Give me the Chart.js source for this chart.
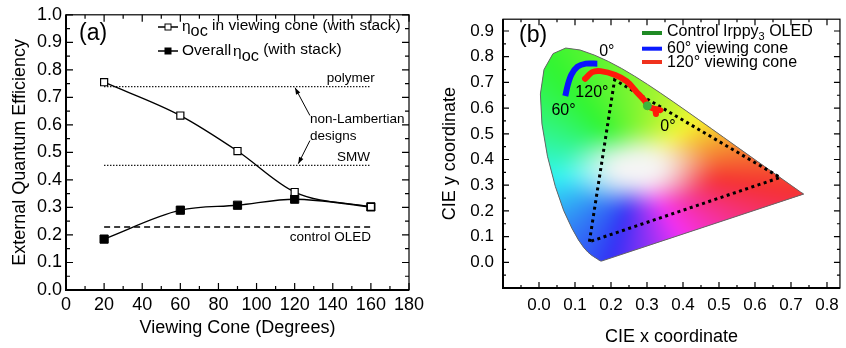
<!DOCTYPE html>
<html>
<head>
<meta charset="utf-8">
<script src="https://cdn.jsdelivr.net/npm/chart.js@4.4.1/dist/chart.umd.min.js"></script>
<style>
html, body { margin: 0; padding: 0; background: #fff; }
#wrap { position: relative; width: 846px; height: 348px; overflow: hidden; }
#chartA { position: absolute; left: 0; top: 0; }
#chartB { position: absolute; left: 420px; top: 0; }
</style>
</head>
<body>
<div id="wrap">
  <canvas id="chartA" width="430" height="348"></canvas>
  <canvas id="chartB" width="426" height="348"></canvas>
</div>
<script>
// ---- panel (a) data
const viewCone = [20, 60, 90, 120, 160];
const etaInCone = [0.755, 0.634, 0.505, 0.356, 0.302];
const etaOverall = [0.185, 0.29, 0.308, 0.33, 0.302];
const refSpan = [20, 160];
const polymerEta = 0.739;
const smwEta = 0.453;
const controlEta = 0.229;
const coneTicks = [0, 20, 40, 60, 80, 100, 120, 140, 160, 180];
const eqeTicks = [0, 0.1, 0.2, 0.3, 0.4, 0.5, 0.6, 0.7, 0.8, 0.9, 1.0];

// ---- panel (b) data (CIE 1931)
const locusX = [0.1741, 0.1740, 0.1738, 0.1736, 0.1733, 0.1730, 0.1726, 0.1721, 0.1714, 0.1703, 0.1689, 0.1669, 0.1644, 0.1611, 0.1566, 0.1510, 0.1440, 0.1355, 0.1241, 0.1096, 0.0913, 0.0687, 0.0454, 0.0235, 0.0082, 0.0039, 0.0139, 0.0389, 0.0743, 0.1142, 0.1547, 0.1929, 0.2296, 0.2658, 0.3016, 0.3373, 0.3731, 0.4087, 0.4441, 0.4788, 0.5125, 0.5448, 0.5752, 0.6029, 0.6270, 0.6482, 0.6658, 0.6801, 0.6915, 0.7006, 0.7079, 0.7140, 0.7190, 0.7230, 0.7260, 0.7283, 0.7300, 0.7311, 0.7320, 0.7334, 0.7344, 0.7347, 0.1741];
const locusY = [0.0050, 0.0050, 0.0049, 0.0049, 0.0048, 0.0048, 0.0048, 0.0048, 0.0051, 0.0058, 0.0069, 0.0086, 0.0109, 0.0138, 0.0177, 0.0227, 0.0297, 0.0399, 0.0578, 0.0868, 0.1327, 0.2007, 0.2950, 0.4127, 0.5384, 0.6548, 0.7502, 0.8120, 0.8338, 0.8262, 0.8059, 0.7816, 0.7543, 0.7243, 0.6923, 0.6589, 0.6245, 0.5896, 0.5547, 0.5202, 0.4866, 0.4544, 0.4242, 0.3965, 0.3725, 0.3514, 0.3340, 0.3197, 0.3083, 0.2993, 0.2920, 0.2859, 0.2809, 0.2770, 0.2740, 0.2717, 0.2700, 0.2689, 0.2680, 0.2666, 0.2656, 0.2653, 0.0050];
const triangleX = [0.14, 0.21, 0.67, 0.14];
const triangleY = [0.08, 0.71, 0.33, 0.08];
const cone60X = [0.073, 0.080, 0.090, 0.107, 0.130, 0.162];
const cone60Y = [0.647, 0.690, 0.730, 0.761, 0.773, 0.773];
const cone120X = [0.128, 0.148, 0.171, 0.212, 0.244, 0.271, 0.294, 0.303, 0.322, 0.337, 0.324, 0.325];
const cone120Y = [0.714, 0.740, 0.744, 0.729, 0.704, 0.663, 0.628, 0.607, 0.597, 0.592, 0.594, 0.577];
const controlX = [0.301];
const controlY = [0.609];
const cieXTicks = [0, 0.1, 0.2, 0.3, 0.4, 0.5, 0.6, 0.7, 0.8];
const cieYTicks = [0, 0.1, 0.2, 0.3, 0.4, 0.5, 0.6, 0.7, 0.8, 0.9];

const FONT = '"Liberation Sans", Arial, Helvetica, sans-serif';
Chart.defaults.font.family = FONT;
Chart.defaults.color = '#000';

const pts = (xs, ys) => xs.map((v, i) => ({ x: v, y: ys[i] }));

// frame with inward ticks on all four sides
function framePlugin(xStart, xStep, yStart, yStep, majorLen, minorLen) {
  return {
    id: 'frame',
    afterDatasetsDraw(chart) {
      const { ctx, chartArea: a, scales: { x, y } } = chart;
      ctx.save();
      ctx.strokeStyle = '#000';
      ctx.lineWidth = 1.2;
      ctx.strokeRect(a.left, a.top, a.right - a.left, a.bottom - a.top);
      ctx.lineWidth = 2;
      ctx.beginPath();
      ctx.moveTo(a.left, a.top); ctx.lineTo(a.left, a.bottom); ctx.lineTo(a.right, a.bottom);
      ctx.stroke();
      ctx.lineWidth = 1.2;
      ctx.beginPath();
      for (let k = 0; k < 200; k++) {
        const v = xStart + k * xStep;
        if (v > x.max + 1e-9) break;
        const p = x.getPixelForValue(v);
        const len = k % 2 === 0 ? majorLen : minorLen;
        ctx.moveTo(p, a.bottom); ctx.lineTo(p, a.bottom - len);
        ctx.moveTo(p, a.top); ctx.lineTo(p, a.top + len);
      }
      for (let k = 0; k < 200; k++) {
        const v = yStart + k * yStep;
        if (v > y.max + 1e-9) break;
        const p = y.getPixelForValue(v);
        const len = k % 2 === 0 ? majorLen : minorLen;
        ctx.moveTo(a.left, p); ctx.lineTo(a.left + len, p);
        ctx.moveTo(a.right, p); ctx.lineTo(a.right - len, p);
      }
      ctx.stroke();
      ctx.restore();
    }
  };
}

function arrow(ctx, x1, y1, x2, y2) {
  const ang = Math.atan2(y2 - y1, x2 - x1);
  ctx.beginPath();
  ctx.moveTo(x1, y1); ctx.lineTo(x2, y2);
  ctx.stroke();
  ctx.beginPath();
  ctx.moveTo(x2, y2);
  ctx.lineTo(x2 - 7 * Math.cos(ang - 0.35), y2 - 7 * Math.sin(ang - 0.35));
  ctx.lineTo(x2 - 7 * Math.cos(ang + 0.35), y2 - 7 * Math.sin(ang + 0.35));
  ctx.closePath();
  ctx.fill();
}

// eta with "oc" subscript, returns new x
function etaOc(ctx, x, y, size) {
  ctx.font = size + 'px ' + FONT;
  ctx.fillText('\u03b7', x, y);
  x += ctx.measureText('\u03b7').width;
  ctx.font = (size * 1.05) + 'px ' + FONT;
  ctx.fillText('oc', x, y + 5);
  x += ctx.measureText('oc').width;
  ctx.font = size + 'px ' + FONT;
  return x;
}

const annotA = {
  id: 'annotA',
  afterDraw(chart) {
    const { ctx, scales: { x, y } } = chart;
    ctx.save();
    ctx.fillStyle = '#000';
    ctx.strokeStyle = '#000';
    ctx.textBaseline = 'middle';
    ctx.font = '23px ' + FONT;
    ctx.fillText('(a)', 79, 34);

    // legend
    ctx.lineWidth = 1.3;
    ctx.beginPath();
    ctx.moveTo(158, 27); ctx.lineTo(178, 27);
    ctx.moveTo(158, 51); ctx.lineTo(178, 51);
    ctx.stroke();
    ctx.fillStyle = '#fff';
    ctx.fillRect(165, 24, 6, 6);
    ctx.lineWidth = 1;
    ctx.strokeRect(165, 24, 6, 6);
    ctx.fillStyle = '#000';
    ctx.fillRect(164.5, 47.5, 7, 7);
    let tx = etaOc(ctx, 182, 27, 15.5);
    ctx.fillText(' in viewing cone (with stack)', tx, 26);
    ctx.font = '15.5px ' + FONT;
    ctx.fillText('Overall', 182, 51);
    tx = etaOc(ctx, 182 + ctx.measureText('Overall').width + 2, 52, 15.5);
    ctx.fillText(' (with stack)', tx, 50);

    // line labels
    ctx.font = '13.5px ' + FONT;
    ctx.textAlign = 'right';
    ctx.fillText('polymer', x.getPixelForValue(162), y.getPixelForValue(0.768));
    ctx.fillText('SMW', x.getPixelForValue(159.5), y.getPixelForValue(0.482));
    ctx.fillText('control OLED', x.getPixelForValue(160), y.getPixelForValue(0.192));
    ctx.textAlign = 'left';
    ctx.fillText('non-Lambertian', x.getPixelForValue(128), y.getPixelForValue(0.62));
    ctx.fillText('designs', x.getPixelForValue(128), y.getPixelForValue(0.558));
    ctx.lineWidth = 1;
    arrow(ctx, x.getPixelForValue(128), y.getPixelForValue(0.634), x.getPixelForValue(120.2), y.getPixelForValue(0.735));
    arrow(ctx, x.getPixelForValue(128), y.getPixelForValue(0.543), x.getPixelForValue(121.9), y.getPixelForValue(0.459));
    ctx.restore();
  }
};

const chartA = new Chart(document.getElementById('chartA'), {
  type: 'line',
  data: {
    datasets: [
      {
        data: pts(viewCone, etaInCone), borderColor: '#000', borderWidth: 1.4,
        pointStyle: 'rect', pointRadius: 5, pointBackgroundColor: '#fff',
        pointBorderColor: '#000', pointBorderWidth: 1.2, cubicInterpolationMode: 'monotone'
      },
      {
        data: pts(viewCone, etaOverall), borderColor: '#000', borderWidth: 1.4,
        pointStyle: 'rect', pointRadius: 5.8, pointBackgroundColor: '#000',
        pointBorderColor: '#000', pointBorderWidth: 1, cubicInterpolationMode: 'monotone'
      },
      { data: pts(refSpan, [polymerEta, polymerEta]), borderColor: '#000', borderWidth: 1.3, borderDash: [1.3, 1.7], pointRadius: 0 },
      { data: pts(refSpan, [smwEta, smwEta]), borderColor: '#000', borderWidth: 1.3, borderDash: [1.3, 1.7], pointRadius: 0 },
      { data: pts(refSpan, [controlEta, controlEta]), borderColor: '#000', borderWidth: 1.3, borderDash: [6, 4], pointRadius: 0 }
    ]
  },
  options: {
    responsive: false,
    animation: false,
    layout: { padding: { top: 14, right: 21, left: 0, bottom: 0 } },
    plugins: { legend: { display: false }, tooltip: { enabled: false } },
    scales: {
      x: {
        type: 'linear', min: 0, max: 180,
        afterBuildTicks: s => { s.ticks = coneTicks.map(v => ({ value: v })); },
        afterFit: s => { s.height = 58; },
        grid: { display: false, drawTicks: false },
        border: { display: false },
        ticks: { padding: 4, font: { size: 18 }, color: '#000', maxRotation: 0, autoSkip: false },
        title: { display: true, text: 'Viewing Cone (Degrees)', font: { size: 18 }, color: '#000', padding: { top: 0, bottom: 9 } }
      },
      y: {
        type: 'linear', min: 0, max: 1,
        afterBuildTicks: s => { s.ticks = eqeTicks.map(v => ({ value: v })); },
        afterFit: s => { s.width = 66; },
        grid: { display: false, drawTicks: false },
        border: { display: false },
        ticks: { padding: 4, font: { size: 18 }, color: '#000', autoSkip: false, callback: v => v.toFixed(1) },
        title: { display: true, text: 'External Quantum Efficiency', font: { size: 18 }, color: '#000', padding: { top: 9, bottom: 0 } }
      }
    }
  },
  plugins: [framePlugin(0, 10, 0, 0.05, 7, 4), annotA]
});

// ---- panel (b)
// hue chosen by direction from the white spot, saturation by distance
const hueAngles = [-166, -108, -62, -11, 45, 115, 194];
const hueValues = [185, 232, 305, 360, 415, 475, 545];
function cieColor(cx, cy) {
  const dx = cx - 0.275, dy = cy - 0.365;
  let a = Math.atan2(dy, dx) * 180 / Math.PI;
  if (a < -166) a += 360;
  let h = hueValues[0];
  for (let i = 0; i < hueAngles.length - 1; i++) {
    if (a >= hueAngles[i] && a <= hueAngles[i + 1]) {
      const t = (a - hueAngles[i]) / (hueAngles[i + 1] - hueAngles[i]);
      h = hueValues[i] + t * (hueValues[i + 1] - hueValues[i]);
    }
  }
  h = ((h % 360) + 360) % 360;
  const d = Math.hypot(dx * 0.85, dy * 1.15);
  let t = Math.min(1, Math.max(0, (d - 0.035) / 0.17));
  t = t * t * (3 - 2 * t);
  const s = 0.8 * t, v = 0.96;
  const c = v * s, hp = h / 60, xx = c * (1 - Math.abs(hp % 2 - 1));
  let rgb;
  if (hp < 1) rgb = [c, xx, 0];
  else if (hp < 2) rgb = [xx, c, 0];
  else if (hp < 3) rgb = [0, c, xx];
  else if (hp < 4) rgb = [0, xx, c];
  else if (hp < 5) rgb = [xx, 0, c];
  else rgb = [c, 0, xx];
  const m = v - c;
  return rgb.map(q => Math.round(255 * (q + m)));
}

const cieFill = {
  id: 'cieFill',
  beforeDatasetsDraw(chart) {
    const { ctx, chartArea: a, scales: { x, y } } = chart;
    const w = Math.round(a.right - a.left), h = Math.round(a.bottom - a.top);
    const off = document.createElement('canvas');
    off.width = w; off.height = h;
    const octx = off.getContext('2d');
    const img = octx.createImageData(w, h);
    for (let j = 0; j < h; j++) {
      const cy = y.getValueForPixel(a.top + j + 0.5);
      for (let i = 0; i < w; i++) {
        const cx = x.getValueForPixel(a.left + i + 0.5);
        const c = cieColor(cx, cy);
        const k = (j * w + i) * 4;
        img.data[k] = c[0]; img.data[k + 1] = c[1]; img.data[k + 2] = c[2]; img.data[k + 3] = 255;
      }
    }
    octx.putImageData(img, 0, 0);
    const soft = document.createElement('canvas');
    soft.width = w; soft.height = h;
    const sctx = soft.getContext('2d');
    sctx.filter = 'blur(7px)';
    sctx.drawImage(off, 0, 0);
    ctx.save();
    ctx.beginPath();
    locusX.forEach((v, i) => {
      const px = x.getPixelForValue(v), py = y.getPixelForValue(locusY[i]);
      if (i) ctx.lineTo(px, py); else ctx.moveTo(px, py);
    });
    ctx.closePath();
    ctx.clip();
    ctx.drawImage(off, a.left, a.top);
    ctx.drawImage(soft, a.left, a.top);
    ctx.restore();
  }
};

const annotB = {
  id: 'annotB',
  afterDraw(chart) {
    const { ctx, scales: { x, y } } = chart;
    ctx.save();
    ctx.fillStyle = '#000';
    ctx.textBaseline = 'middle';
    ctx.font = '23px ' + FONT;
    ctx.fillText('(b)', 99, 36);

    ctx.font = '16px ' + FONT;
    ctx.textAlign = 'center';
    ctx.fillText('0°', x.getPixelForValue(0.1885), y.getPixelForValue(0.818));
    ctx.fillText('120°', x.getPixelForValue(0.147), y.getPixelForValue(0.660));
    ctx.fillText('60°', x.getPixelForValue(0.068), y.getPixelForValue(0.590));
    ctx.fillText('0°', x.getPixelForValue(0.358), y.getPixelForValue(0.527));

    // legend
    ctx.textAlign = 'left';
    ctx.lineWidth = 4;
    const rows = [[33, '#1f8a24'], [48.7, '#0a1aff'], [62, '#f0321e']];
    rows.forEach(r => {
      ctx.strokeStyle = r[1];
      ctx.beginPath(); ctx.moveTo(222, r[0]); ctx.lineTo(242, r[0]); ctx.stroke();
    });
    ctx.fillStyle = '#000';
    ctx.fillText('Control Irppy', 247, 32);
    let tx = 247 + ctx.measureText('Control Irppy').width;
    ctx.font = '11px ' + FONT;
    ctx.fillText('3', tx, 37);
    tx += ctx.measureText('3').width;
    ctx.font = '16px ' + FONT;
    ctx.fillText(' OLED', tx, 32);
    ctx.fillText('60° viewing cone', 247, 49);
    ctx.fillText('120° viewing cone', 247, 62.7);
    ctx.restore();
  }
};

const chartB = new Chart(document.getElementById('chartB'), {
  type: 'line',
  data: {
    datasets: [
      { data: pts(controlX, controlY), showLine: false, pointRadius: 4, pointBackgroundColor: '#3cb43c', pointBorderColor: '#3cb43c' },
      { data: pts(cone120X, cone120Y), borderColor: '#ff1a0a', borderWidth: 6, pointRadius: 0, tension: 0.25, borderCapStyle: 'round', borderJoinStyle: 'round' },
      { data: pts(cone60X, cone60Y), borderColor: '#0a14ff', borderWidth: 6, pointRadius: 0, tension: 0.3 },
      { data: pts(triangleX, triangleY), borderColor: '#000', borderWidth: 3, borderDash: [3, 3.5], pointRadius: 0, tension: 0 },
      { data: pts(locusX, locusY), borderColor: '#666', borderWidth: 1, pointRadius: 0, tension: 0 }
    ]
  },
  options: {
    responsive: false,
    animation: false,
    layout: { padding: { top: 13, right: 1, left: 0, bottom: 0 } },
    plugins: { legend: { display: false }, tooltip: { enabled: false } },
    scales: {
      x: {
        type: 'linear', min: -0.1, max: 0.836,
        afterBuildTicks: s => { s.ticks = cieXTicks.map(v => ({ value: v })); },
        afterFit: s => { s.height = 60; },
        grid: { display: false, drawTicks: false },
        border: { display: false },
        ticks: { padding: 7, font: { size: 17 }, color: '#000', maxRotation: 0, autoSkip: false, callback: v => v.toFixed(1) },
        title: { display: true, text: 'CIE x coordinate', font: { size: 18 }, color: '#000', padding: { top: 0, bottom: 0 } }
      },
      y: {
        type: 'linear', min: -0.1, max: 0.946,
        afterBuildTicks: s => { s.ticks = cieYTicks.map(v => ({ value: v })); },
        afterFit: s => { s.width = 83; },
        grid: { display: false, drawTicks: false },
        border: { display: false },
        ticks: { padding: 9, font: { size: 17 }, color: '#000', autoSkip: false, callback: v => v.toFixed(1) },
        title: { display: true, text: 'CIE y coordinate', font: { size: 18 }, color: '#000', padding: { top: 19, bottom: 0 } }
      }
    }
  },
  plugins: [cieFill, framePlugin(-0.1, 0.05, -0.1, 0.05, 6, 3), annotB]
});
</script>
</body>
</html>
